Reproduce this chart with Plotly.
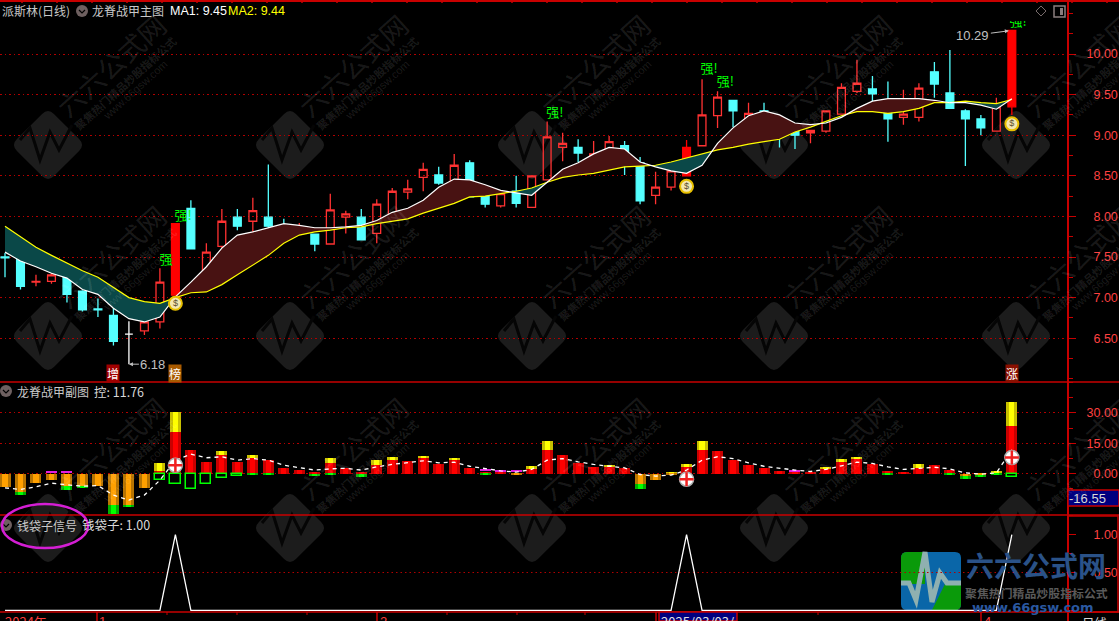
import plotly.graph_objects as go

# ---------- data ----------
idx = list(range(66))
opens = [7.50,7.51,7.19,7.20,7.26,7.08,6.86,6.78,6.55,6.59,6.70,7.03,8.10,7.19,7.63,7.99,7.94,7.99,7.88,7.82,7.78,7.66,7.99,7.99,7.79,7.99,8.30,8.48,8.51,8.30,8.66,8.32,8.13,8.31,8.11,8.45,8.85,8.85,8.69,8.68,8.87,8.66,8.26,8.36,8.50,8.87,9.24,9.43,9.10,9.30,9.20,9.05,9.03,9.05,9.26,9.54,9.57,9.42,9.22,9.22,9.78,9.52,9.30,9.20,9.05,9.35]
closes = [7.49,7.14,7.20,7.28,7.04,6.85,6.85,6.46,6.55,6.70,7.19,7.91,7.60,7.56,7.94,7.88,8.07,7.88,7.81,7.86,7.66,8.08,8.03,7.71,8.15,8.31,8.34,8.58,8.41,8.63,8.24,8.15,8.28,8.16,8.50,8.98,8.90,8.78,8.77,8.92,8.74,8.19,8.36,8.56,8.85,9.25,9.47,9.30,9.27,9.25,9.01,9.00,9.06,9.30,9.59,9.64,9.51,9.20,9.26,9.58,9.63,9.33,9.20,9.09,9.35,10.29]
highs = [7.55,7.52,7.28,7.31,7.28,7.09,6.99,6.88,6.71,6.70,7.36,7.91,8.20,7.67,8.09,8.09,8.23,8.64,7.97,7.92,7.78,8.28,8.07,8.09,8.21,8.35,8.45,8.66,8.61,8.77,8.69,8.35,8.29,8.50,8.50,9.17,9.03,8.95,8.93,8.99,8.93,8.73,8.55,8.66,8.94,9.69,9.54,9.43,9.40,9.40,9.25,9.10,9.06,9.30,9.64,9.93,9.73,9.66,9.56,9.64,9.90,10.05,9.32,9.25,9.46,10.29]
lows = [7.25,7.10,7.14,7.17,6.94,6.83,6.76,6.41,6.18,6.54,6.62,7.03,7.60,7.19,7.50,7.83,7.70,7.86,7.72,7.77,7.57,7.66,7.79,7.71,7.67,7.99,8.21,8.31,8.39,8.30,8.24,8.11,8.11,8.11,8.11,8.45,8.68,8.67,8.62,8.68,8.51,8.15,8.15,8.32,8.50,8.87,9.09,9.10,9.10,9.20,8.85,8.83,8.90,9.03,9.26,9.52,9.37,8.92,9.13,9.17,9.46,9.33,8.62,9.00,9.05,9.25]
ma1 = [7.56,7.45,7.38,7.30,7.24,7.10,7.04,6.87,6.74,6.70,6.76,7.01,7.19,7.38,7.61,7.77,7.81,7.86,7.91,7.89,7.86,7.86,7.87,7.89,7.95,8.05,8.10,8.20,8.36,8.46,8.45,8.39,8.32,8.29,8.26,8.42,8.58,8.66,8.77,8.85,8.83,8.67,8.61,8.56,8.53,8.63,8.90,9.09,9.24,9.30,9.25,9.15,9.13,9.15,9.22,9.33,9.42,9.45,9.45,9.45,9.43,9.40,9.40,9.37,9.32,9.45]
ma2 = [7.88,7.75,7.62,7.52,7.42,7.33,7.25,7.12,7.00,6.95,6.93,7.00,7.06,7.07,7.16,7.28,7.40,7.52,7.67,7.77,7.81,7.83,7.86,7.87,7.91,7.94,7.97,8.04,8.10,8.16,8.24,8.25,8.28,8.31,8.35,8.42,8.48,8.51,8.53,8.57,8.61,8.62,8.63,8.67,8.72,8.77,8.82,8.85,8.89,8.92,8.95,9.04,9.10,9.17,9.24,9.29,9.29,9.27,9.29,9.33,9.40,9.40,9.42,9.40,9.39,9.44]
solid_red = [11, 44, 65]
white_doji = [8]

N = None
red_top = [N,N,N,N,N,N,N,N,N,N,1.2,20.5,11.6,5.6,9.1,5.6,7.8,6.6,2.6,1.7,0.4,5.1,2.6,0.4,4.0,6.6,6.0,7.6,4.8,6.6,2.6,0.6,1.2,N,2.0,11.6,9.1,5.1,3.1,3.6,2.6,N,N,N,3.0,11.6,11.1,6.6,4.1,2.6,1.2,0.8,0.7,2.0,5.5,7.1,4.6,1.2,0.7,2.8,4.1,1.7,N,N,0.3,23.5]
yellow_top = [N,N,N,N,N,N,N,N,N,N,5.1,30.4,N,N,11.1,N,9.1,N,N,N,N,7.6,N,N,6.6,8.1,N,8.6,N,7.6,N,N,N,N,3.6,16.0,N,N,N,4.1,N,N,N,0.7,4.6,16.0,N,N,N,N,N,N,N,3.1,7.1,8.1,N,N,N,4.6,N,N,N,N,1.2,35.4]
orange_bot = [-6.6,-9.1,-4.6,-3.3,-6.3,-6.3,-6.3,-15.7,-15.7,-7.3,N,N,N,N,N,N,N,N,N,N,N,N,N,N,N,N,N,N,N,N,N,N,N,-0.8,N,N,N,N,N,N,N,-5.0,-3.3,-0.8,N,N,N,N,N,N,N,N,N,N,N,N,N,N,N,N,N,N,-1.3,-0.8,N,N]
green_bot = [N,-10.7,N,N,-8.3,-7.1,N,-20.2,-16.7,N,N,N,N,N,N,N,-0.7,-0.7,N,N,-1.3,-0.7,N,-1.8,N,N,N,N,N,N,N,-0.8,N,N,N,N,N,N,N,N,N,-7.8,N,N,N,N,N,N,N,N,N,N,N,N,N,N,N,-0.8,N,N,N,-0.7,-2.6,-1.7,-0.7,N]
hollow_bot = [N,N,N,N,N,N,N,N,N,N,-3.1,-5.1,-7.6,-5.1,-2.1,-1.2,N,N,N,N,N,N,N,N,N,N,N,N,N,N,N,N,N,N,N,N,N,N,N,N,N,N,N,N,N,N,N,N,N,N,N,N,N,N,N,N,N,N,N,N,N,N,N,N,N,-1.7]
magenta_top = {3:0.7, 4:0.7, 31:1.6, 32:1.4, 33:1.0, 51:1.2}
control = [-7.1,-7.9,-6.6,-4.8,-5.6,-6.3,-6.0,-10.7,-13.2,-10.7,-3.3,6.6,9.6,7.8,8.3,6.6,7.4,6.6,4.1,3.0,1.7,2.3,2.6,1.7,3.3,4.5,5.5,6.3,5.3,5.6,3.6,2.5,1.3,0.7,2.0,6.6,7.4,5.8,4.5,3.6,2.8,-0.5,-1.3,-0.8,1.7,6.6,8.3,7.4,5.3,3.6,2.5,1.7,1.0,2.0,3.8,5.6,5.0,3.3,2.0,2.6,3.1,2.3,0.3,-0.3,0.3,11.76]
signal = [1 if i in (11, 44, 65) else 0 for i in idx]

bag_x = [11, 44, 65]
bag_y = [6.93, 8.37, 9.14]
plus_y = [4.1, -2.8, 7.9]
qiang_x = [10.4, 11.5, 35.5, 45.45, 46.5, 65.4]
qiang_y = [7.45, 7.99, 9.27, 9.80, 9.64, 10.38]
qiang_t = ["强", "强!", "强!", "强!", "强!", "强!"]

price_ticks = [10.0, 9.5, 9.0, 8.5, 8.0, 7.5, 7.0, 6.5]
sub_ticks = [30.0, 15.0, 0.0]
sig_ticks = [1.0, 0.5]

W, H, AX = 1119, 621, 1068
RED = "#c80000"
GRID = "#b00000"
TICK = "#ff4040"
CJK = "Noto Sans CJK SC"
NUM = "Liberation Sans"
DOTS = "1.5px,3px"

def px(x): return x / W
def py(y): return 1 - y / H
def bar_x(x): return (x - 5) / 15.49

fig = go.Figure()

# ---------- main panel: band between the two averages ----------
def band(sign):
    xs, ys = [], []
    for i in range(len(idx) - 1):
        a0, a1 = ma1[i], ma1[i + 1]
        b0, b1 = ma2[i], ma2[i + 1]
        d0, d1 = (a0 - b0) * sign, (a1 - b1) * sign
        if d0 <= 0 and d1 <= 0:
            continue
        if d0 > 0 and d1 > 0:
            xs += [i, i + 1, i + 1, i, None]
            ys += [a0, a1, b1, b0, None]
        else:
            t = d0 / (d0 - d1)
            xc = i + t
            yc = a0 + (a1 - a0) * t
            if d0 > 0:
                xs += [i, xc, i, None]
                ys += [a0, yc, b0, None]
            else:
                xs += [xc, i + 1, i + 1, None]
                ys += [yc, a1, b1, None]
    return xs, ys

for sign, col in ((1, "#481212"), (-1, "#0a4848")):
    bx, by = band(sign)
    fig.add_trace(go.Scatter(x=bx, y=by, mode="none", fill="toself", fillcolor=col,
                             hoverinfo="skip", showlegend=False, xaxis="x", yaxis="y"))

fig.add_trace(go.Scatter(x=idx, y=ma2, mode="lines", line=dict(color="#ffff00", width=1.2),
                         showlegend=False, xaxis="x", yaxis="y"))
fig.add_trace(go.Scatter(x=idx, y=ma1, mode="lines", line=dict(color="#ffffff", width=1.2),
                         showlegend=False, xaxis="x", yaxis="y"))

def candles(sel, line, fill):
    fig.add_trace(go.Candlestick(
        x=sel, open=[opens[i] for i in sel], high=[highs[i] for i in sel],
        low=[lows[i] for i in sel], close=[closes[i] for i in sel],
        increasing=dict(line=dict(color=line, width=1.3), fillcolor=fill),
        decreasing=dict(line=dict(color=line, width=1.3), fillcolor=fill),
        whiskerwidth=0, showlegend=False, xaxis="x", yaxis="y"))

rest = [i for i in idx if i not in solid_red and i not in white_doji]
candles([i for i in rest if closes[i] > opens[i]], "#ff3232", "rgba(0,0,0,0)")
candles([i for i in rest if closes[i] <= opens[i]], "#54ffff", "#54ffff")
candles(solid_red, "#ff0000", "#ff0000")
candles(white_doji, "#ffffff", "#ffffff")

fig.add_trace(go.Scatter(x=qiang_x, y=qiang_y, mode="text", text=qiang_t,
                         textfont=dict(family=CJK, size=13, color="#00ff00"),
                         textposition="middle center", showlegend=False, xaxis="x", yaxis="y"))
fig.add_trace(go.Scatter(x=bag_x, y=bag_y, mode="markers+text", text=["$"] * 3,
                         textfont=dict(family=NUM, size=9, color="#5a5030"),
                         textposition="middle center",
                         marker=dict(size=13, color="#f3e8b0", line=dict(color="#e8c000", width=2)),
                         showlegend=False, xaxis="x", yaxis="y"))

# ---------- sub panel ----------
def layered(x, y, base, dark, bright):
    fig.add_trace(go.Bar(x=x, y=y, base=base, width=0.71, marker=dict(color=dark, line=dict(width=0)),
                         showlegend=False, xaxis="x", yaxis="y2"))
    fig.add_trace(go.Bar(x=x, y=y, base=base, width=0.33, marker=dict(color=bright, line=dict(width=0)),
                         showlegend=False, xaxis="x", yaxis="y2"))

def pick(values):
    return [i for i in idx if values[i] is not None]

s = pick(red_top)
layered(s, [red_top[i] for i in s], [0] * len(s), "#c80000", "#ff0000")
s = pick(yellow_top)
layered(s, [yellow_top[i] - (red_top[i] or 0) for i in s], [red_top[i] or 0 for i in s], "#c8c000", "#ffff00")
s = pick(orange_bot)
layered(s, [orange_bot[i] for i in s], [0] * len(s), "#b87400", "#ffa000")
s = pick(green_bot)
layered(s, [green_bot[i] - (orange_bot[i] or 0) for i in s], [orange_bot[i] or 0 for i in s], "#00b000", "#00ff00")
s = pick(hollow_bot)
fig.add_trace(go.Bar(x=s, y=[hollow_bot[i] for i in s], base=[0] * len(s), width=0.66,
                     marker=dict(color="rgba(0,0,0,0)", line=dict(color="#00ff00", width=1.5)),
                     showlegend=False, xaxis="x", yaxis="y2"))
s = list(magenta_top)
fig.add_trace(go.Bar(x=s, y=[0.45] * len(s), base=[magenta_top[i] - 0.2 for i in s], width=0.71,
                     marker=dict(color="#e020e0", line=dict(width=0)),
                     showlegend=False, xaxis="x", yaxis="y2"))
fig.add_trace(go.Scatter(x=idx, y=control, mode="lines",
                         line=dict(color="#ffffff", width=1.3, dash="4px,4px"),
                         showlegend=False, xaxis="x", yaxis="y2"))
fig.add_trace(go.Scatter(x=bag_x, y=plus_y, mode="markers",
                         marker=dict(size=14, color="#ffffff", line=dict(color="#b0b0b0", width=1.5)),
                         showlegend=False, xaxis="x", yaxis="y2"))
fig.add_trace(go.Scatter(x=bag_x, y=plus_y, mode="markers",
                         marker=dict(size=10, color="#f02020", symbol="cross-thin",
                                     line=dict(color="#f02020", width=2.5)),
                         showlegend=False, xaxis="x", yaxis="y2"))

# ---------- signal panel ----------
fig.add_trace(go.Scatter(x=idx, y=signal, mode="lines", line=dict(color="#ffffff", width=1.3),
                         showlegend=False, xaxis="x", yaxis="y3", cliponaxis=False))

# ---------- decoration: watermarks ----------
shapes, notes = [], []

def poly(points, fill=None, line=None, width=0, layer="below", close=True):
    d = "M " + " L ".join(f"{px(a):.5f},{py(b):.5f}" for a, b in points) + (" Z" if close else "")
    shapes.append(dict(type="path", path=d, xref="paper", yref="paper", layer=layer,
                       fillcolor=fill if fill else "rgba(0,0,0,0)",
                       line=dict(color=line if line else "rgba(0,0,0,0)", width=width)))

def rect(x0, y0, x1, y1, fill=None, line=None, width=1, layer="above"):
    shapes.append(dict(type="rect", xref="paper", yref="paper", x0=px(x0), x1=px(x1), y0=py(y1), y1=py(y0),
                       layer=layer, fillcolor=fill if fill else "rgba(0,0,0,0)",
                       line=dict(color=line if line else "rgba(0,0,0,0)", width=width if line else 0)))

def hline(x0, x1, y, color=RED, width=1.5, layer="above"):
    shapes.append(dict(type="line", xref="paper", yref="paper", x0=px(x0), x1=px(x1), y0=py(y), y1=py(y),
                       layer=layer, line=dict(color=color, width=width)))

def vline(x, y0, y1, color=RED, width=1.5, layer="above"):
    shapes.append(dict(type="line", xref="paper", yref="paper", x0=px(x), x1=px(x), y0=py(y0), y1=py(y1),
                       layer=layer, line=dict(color=color, width=width)))

def note(text, x, y, size=12, color="#c8c8c8", anchor="left", family=CJK, angle=0, yanchor="middle", bg=None):
    notes.append(dict(text=text, x=px(x), y=py(y), xref="paper", yref="paper", showarrow=False,
                      xanchor=anchor, yanchor=yanchor, textangle=angle, borderpad=0, borderwidth=0,
                      font=dict(family=family, size=size, color=color), bgcolor=bg))

WM = "rgba(255,255,255,0.11)"
for cy in (145, 336, 528):
    for cx in (48, 290, 532, 774, 1016):
        R = 37
        corners = [(cx, cy - R), (cx + R, cy), (cx, cy + R), (cx - R, cy)]
        path = []
        n = len(corners)
        for k, c in enumerate(corners):
            prev, nxt = corners[k - 1], corners[(k + 1) % n]
            p0 = (c[0] + (prev[0] - c[0]) * 0.16, c[1] + (prev[1] - c[1]) * 0.16)
            p1 = (c[0] + (nxt[0] - c[0]) * 0.16, c[1] + (nxt[1] - c[1]) * 0.16)
            path.append(f"{'M' if k == 0 else 'L'} {px(p0[0]):.5f},{py(p0[1]):.5f} "
                        f"Q {px(c[0]):.5f},{py(c[1]):.5f} {px(p1[0]):.5f},{py(p1[1]):.5f}")
        shapes.append(dict(type="path", path=" ".join(path) + " Z", xref="paper", yref="paper",
                           layer="below", fillcolor="#1c1c1c", line=dict(width=0)))
        poly([(cx - 28, cy - 5), (cx - 18, cy - 17), (cx - 8, cy + 15), (cx + 2, cy - 13),
              (cx + 11, cy + 5), (cx + 24, cy - 20)], line="#050505", width=3, close=False)
        note("六六公式网", cx + 62, cy - 80, 27, WM, "center", CJK, -42)
        note("<b>聚焦热门精品炒股指标公式</b>", cx + 77, cy - 62, 11, WM, "center", CJK, -42)
        note("www.66gsw.com", cx + 87, cy - 55, 11, WM, "center", NUM, -42)

# brand logo
LX0, LX1, LY0, LY1 = 901, 961, 552, 610
shapes.append(dict(type="path", xref="paper", yref="paper", layer="below", fillcolor="#0a66a8", line=dict(width=0),
                   path=f"M {px(LX0+6)},{py(LY0)} L {px(LX1-6)},{py(LY0)} Q {px(LX1)},{py(LY0)} {px(LX1)},{py(LY0+6)} "
                        f"L {px(LX1)},{py(LY1-6)} Q {px(LX1)},{py(LY1)} {px(LX1-6)},{py(LY1)} L {px(LX0+6)},{py(LY1)} "
                        f"Q {px(LX0)},{py(LY1)} {px(LX0)},{py(LY1-6)} L {px(LX0)},{py(LY0+6)} Q {px(LX0)},{py(LY0)} {px(LX0+6)},{py(LY0)} Z"))
shapes.append(dict(type="path", xref="paper", yref="paper", layer="below", fillcolor="#0a9a0a", line=dict(width=0),
                   path=f"M {px(LX0+6)},{py(LY0)} L {px(925)},{py(LY0)} L {px(925)},{py(584)} L {px(LX0)},{py(584)} "
                        f"L {px(LX0)},{py(LY0+6)} Q {px(LX0)},{py(LY0)} {px(LX0+6)},{py(LY0)} Z"))
shapes.append(dict(type="path", xref="paper", yref="paper", layer="below", fillcolor="#0a9a0a", line=dict(width=0),
                   path=f"M {px(945)},{py(584)} L {px(LX1)},{py(584)} L {px(LX1)},{py(LY1-6)} Q {px(LX1)},{py(LY1)} {px(LX1-6)},{py(LY1)} "
                        f"L {px(932)},{py(LY1)} Z"))
poly([(901, 583), (909, 583), (916, 600), (925, 552), (932, 602), (940, 573), (947, 583), (961, 583)],
     line="#8fb0b0", width=5, close=False)
note("<b>六六公式网</b>", 1036, 565, 28, "#2a5288", "center")
note("<b>聚焦热门精品炒股指标公式</b>", 1036, 592, 11.9, "#5a5a5a", "center")
note("<b>www.66gsw.com</b>", 1033, 607, 13, "#2a58a0", "center", "DejaVu Sans")

# ---------- frame ----------
hline(0, W, 1, width=2)
hline(0, W, 382)
hline(0, W, 515)
hline(0, W, 612)
vline(AX, 0, H, width=2)
for tx in range(22, W, 35):
    vline(tx, 0, 3)
rect(AX, 516, 1118, 612, line=RED, width=1.5)
for tx in (97, 377, 656, 981):
    vline(tx, 612, H)
for tx in (167, 237, 307, 447, 517, 585, 818):
    vline(tx, 612, 615, width=1)

# ---------- header texts and icons ----------
note("派斯林(日线)", 2, 11, 12)
note("龙脊战甲主图", 92, 11, 12)
note("MA1: 9.45", 170, 11, 12.5, "#ffffff", family=NUM)
note("MA2: 9.44", 228, 11, 12.5, "#ffff00", family=NUM)
note("龙脊战甲副图", 17, 391, 12)
note("控: 11.76", 94, 391, 12.5, "#d8d8d8")
note("钱袋子信号", 17, 525, 12)
note("钱袋子: 1.00", 82, 524, 12.5, "#d8d8d8")
for cx, cy in ((82, 11), (6, 391), (6, 525)):
    shapes.append(dict(type="circle", xref="paper", yref="paper", x0=px(cx - 6), x1=px(cx + 6),
                       y0=py(cy + 6), y1=py(cy - 6), fillcolor="#6e6060", line=dict(width=0), layer="above"))
    poly([(cx - 3, cy - 1), (cx, cy + 2), (cx + 3, cy - 1)], line="#000000", width=1.2, layer="above", close=False)
shapes.append(dict(type="circle", xref="paper", yref="paper", x0=px(2), x1=px(88), y0=py(548), y1=py(504),
                   line=dict(color="#d41ed4", width=2.5), layer="above"))
poly([(1041, 6), (1046, 11), (1041, 16), (1036, 11)], line="#7a6e6e", width=1, layer="above")
rect(1054, 6, 1065, 17, line="#8a7e7e", width=1.5)
rect(1060, 8, 1063, 15, fill="#8a7e7e")

# cover the upper part of the clipped last label
rect(1006, 3, 1034, 21, fill="#000000")

# bottom strip
note("2024年", 5, 621, 13, "#ff3c3c", yanchor="middle")
note("1", 99, 621, 13, "#ff3c3c", family=NUM)
note("2", 380, 621, 13, "#ff3c3c", family=NUM)
note("4", 984, 621, 13, "#ff3c3c", family=NUM)
rect(659, 612, 737, H, fill="#000080", line=RED, width=1.5)
note("2025/03/03/一", 661, 621, 13, "#e0e0e0")
note("日线", 1082, 622, 12.5, "#d8d8d8")

# cursor value
rect(AX, 490, W, 506, fill="#000080", line=RED, width=1.5)
note("-16.55", 1069, 498, 13, "#d8d8d8", family=NUM)

# panel tags
for i, t, bg in ((7, "增", "#a00000"), (11, "榜", "#a85a00"), (65, "涨", "#8a1000")):
    notes.append(dict(text=t, x=i, y=6.06, xref="x", yref="y", showarrow=False, xanchor="center", yanchor="middle",
                      font=dict(family=CJK, size=12, color="#ffffff"), bgcolor=bg, borderpad=0))

# extreme labels
notes.append(dict(text="6.18", x=8, y=6.18, xref="x", yref="y", ax=24, ay=0, axref="pixel", ayref="pixel",
                  showarrow=True, arrowhead=2, arrowsize=0.8, arrowwidth=1, arrowcolor="#c0c0c0", standoff=0,
                  font=dict(family=NUM, size=13, color="#c0c0c0")))
notes.append(dict(text="10.29", x=65, y=10.29, xref="x", yref="y", ax=-39, ay=5, axref="pixel", ayref="pixel",
                  showarrow=True, arrowhead=2, arrowsize=0.8, arrowwidth=1, arrowcolor="#c0c0c0", standoff=3,
                  font=dict(family=NUM, size=13, color="#c0c0c0")))

# dotted 0.50 grid of the signal panel
shapes.append(dict(type="line", xref="paper", yref="y3", x0=0, x1=AX / W, y0=0.5, y1=0.5,
                   line=dict(color=GRID, width=1, dash=DOTS), layer="below"))

def yaxis(domain, rng, ticks, minor, grid):
    return dict(domain=domain, range=rng, side="right", anchor="x", tickmode="array", tickvals=ticks,
                ticktext=[f"{v:.2f}".rjust(5, "\u2007") for v in ticks],
                tickfont=dict(family=NUM, size=12.5, color=TICK), ticks="outside", ticklen=7, tickwidth=1,
                tickcolor=RED, ticklabelstandoff=8, showgrid=grid, gridcolor=GRID, griddash=DOTS, gridwidth=1,
                showline=False, zeroline=False, fixedrange=True,
                minor=dict(dtick=minor, ticks="outside", ticklen=4, tickcolor=RED, showgrid=False))

fig.update_layout(
    width=W, height=H, autosize=False, margin=dict(l=0, r=0, t=0, b=0),
    paper_bgcolor="#000000", plot_bgcolor="rgba(0,0,0,0)", showlegend=False,
    barmode="overlay", bargap=0, boxgap=0.28, hovermode=False,
    xaxis=dict(domain=[0, AX / W], range=[bar_x(0), bar_x(AX)], anchor="y3", showgrid=False, zeroline=False,
               showticklabels=False, ticks="", showline=False, rangeslider=dict(visible=False), fixedrange=True),
    yaxis=yaxis([(H - 382) / H, 1], [10 - 328 / 81.2, 10 + 54 / 81.2], price_ticks, 0.25, True),
    yaxis2=yaxis([(H - 515) / H, (H - 382) / H], [-41.5 / 2.017, 91.5 / 2.017], sub_ticks, 7.5, True),
    yaxis3=yaxis([(H - 612) / H, (H - 515) / H], [-1.7 / 75.6, 95.3 / 75.6], sig_ticks, 0.25, False),
    shapes=shapes, annotations=notes,
    font=dict(family=CJK),
)

fig.write_html("out.html", config=dict(displayModeBar=False),
               post_script="document.documentElement.style.margin='0';document.body.style.margin='0';"
                           "document.body.style.background='#000';document.body.style.overflow='hidden';")
